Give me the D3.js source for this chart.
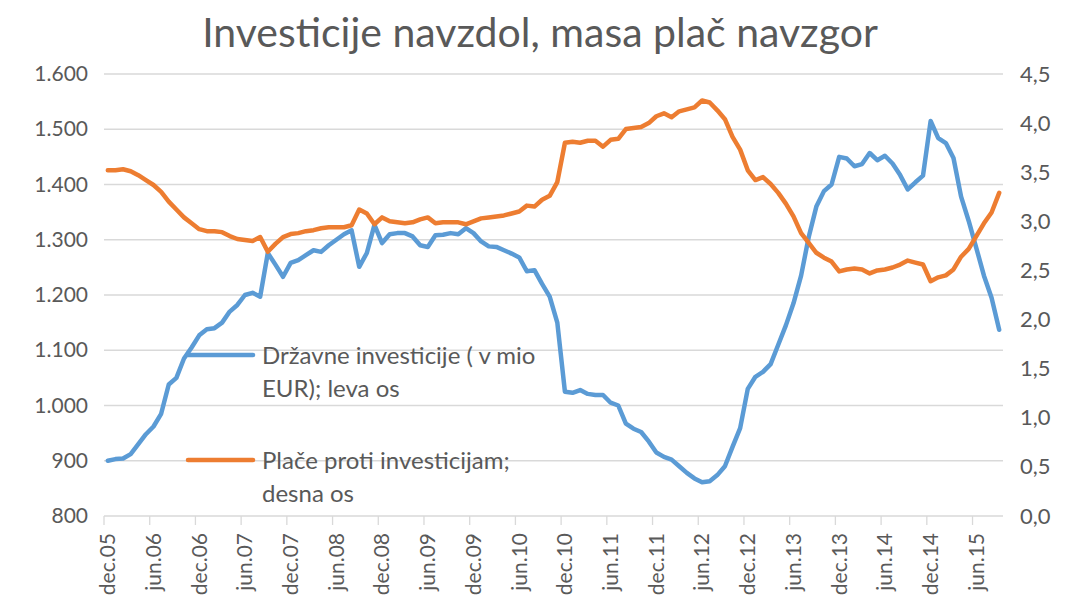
<!DOCTYPE html>
<html>
<head>
<meta charset="utf-8">
<script src="https://cdn.jsdelivr.net/npm/d3@7"></script>
<style>
  body { margin: 0; background: #fff; }
  svg { display: block; font-family: Lato, 'Open Sans', sans-serif; }
</style>
</head>
<body>
<div id="chart"></div>
<script>
const width = 1069, height = 610;

// monthly values dec.05 .. sep.15
const investicije = [
  900, 903, 904, 912, 930, 948, 962, 985, 1038, 1050,
  1085, 1105, 1127, 1138, 1140, 1150, 1170, 1182, 1200, 1204,
  1197, 1276, 1255, 1233, 1258, 1263, 1272, 1281, 1278, 1290,
  1300, 1310, 1317, 1251, 1276, 1327, 1294, 1310, 1312, 1312,
  1306, 1290, 1287, 1308, 1309, 1312, 1310, 1321, 1312, 1297,
  1288, 1287, 1281, 1275, 1268, 1243, 1245, 1220, 1197, 1150,
  1025, 1023, 1028, 1021, 1019, 1019, 1005, 1000, 967, 958,
  952, 935, 915, 907, 902, 890, 878, 868, 861, 863,
  874, 890, 925, 959, 1030, 1052, 1061, 1075, 1110, 1145,
  1185, 1235, 1305, 1360, 1388, 1400, 1450, 1447, 1433, 1437,
  1457, 1444, 1452, 1438, 1417, 1391, 1404, 1416, 1515, 1484,
  1475, 1448, 1378, 1334, 1285, 1235, 1195, 1137
];
const placeProti = [
  3.52, 3.52, 3.53, 3.51, 3.47, 3.42, 3.37, 3.30, 3.20, 3.12,
  3.04, 2.98, 2.92, 2.90, 2.90, 2.89, 2.85, 2.82, 2.81, 2.80,
  2.84, 2.69, 2.77, 2.84, 2.87, 2.88, 2.90, 2.91, 2.93, 2.94,
  2.94, 2.94, 2.96, 3.12, 3.08, 2.97, 3.04, 3.00, 2.99, 2.98,
  2.99, 3.02, 3.04, 2.98, 2.99, 2.99, 2.99, 2.97, 3.00, 3.03,
  3.04, 3.05, 3.06, 3.08, 3.10, 3.16, 3.15, 3.22, 3.26, 3.40,
  3.80, 3.81, 3.80, 3.82, 3.82, 3.76, 3.83, 3.84, 3.94, 3.95,
  3.96, 4.00, 4.07, 4.10, 4.06, 4.12, 4.14, 4.16, 4.23, 4.21,
  4.13, 4.04, 3.86, 3.73, 3.52, 3.42, 3.45, 3.38, 3.29, 3.18,
  3.05, 2.88, 2.78, 2.68, 2.63, 2.59, 2.49, 2.51, 2.52, 2.51,
  2.47, 2.50, 2.51, 2.53, 2.56, 2.60, 2.58, 2.56, 2.39, 2.43,
  2.45, 2.51, 2.64, 2.72, 2.85, 2.98, 3.09, 3.29
];
const tickLabels = [
  'dec.05', 'jun.06', 'dec.06', 'jun.07', 'dec.07', 'jun.08', 'dec.08',
  'jun.09', 'dec.09', 'jun.10', 'dec.10', 'jun.11', 'dec.11', 'jun.12',
  'dec.12', 'jun.13', 'dec.13', 'jun.14', 'dec.14', 'jun.15'
];
const leftTicks = [800, 900, 1000, 1100, 1200, 1300, 1400, 1500, 1600];
const rightTicks = [0, 0.5, 1, 1.5, 2, 2.5, 3, 3.5, 4, 4.5];
const legendItems = [
  { lines: ['Državne investicije ( v mio', 'EUR); leva os'], color: '#5b9bd5' },
  { lines: ['Plače proti investicijam;', 'desna os'], color: '#ed7d31' }
];

const margin = { top: 74, right: 66, bottom: 94, left: 104 };
const plotW = width - margin.left - margin.right;
const plotH = height - margin.top - margin.bottom;
const textColor = '#595959';

const svg = d3.select('#chart').append('svg')
  .attr('width', width)
  .attr('height', height);

const x = d3.scaleBand()
  .domain(d3.range(investicije.length))
  .range([margin.left, margin.left + plotW])
  .padding(0);
const yLeft = d3.scaleLinear()
  .domain([800, 1600])
  .range([margin.top + plotH, margin.top]);
const yRight = d3.scaleLinear()
  .domain([0, 4.5])
  .range([margin.top + plotH, margin.top]);

// title
svg.append('text')
  .attr('x', 540)
  .attr('y', 47)
  .attr('text-anchor', 'middle')
  .attr('font-size', '41px')
  .attr('fill', textColor)
  .text('Investicije navzdol, masa plač navzgor');

// gridlines
svg.append('g')
  .selectAll('line')
  .data(leftTicks.slice(1))
  .join('line')
    .attr('x1', margin.left)
    .attr('x2', margin.left + plotW)
    .attr('y1', d => yLeft(d))
    .attr('y2', d => yLeft(d))
    .attr('stroke', '#d9d9d9')
    .attr('stroke-width', 1.3);

// left axis
const leftAxis = d3.axisLeft(yLeft)
  .tickValues(leftTicks)
  .tickSize(0)
  .tickPadding(16)
  .tickFormat(d => d3.format(',')(d).replace(',', '.'));
svg.append('g')
  .attr('transform', `translate(${margin.left}, 0)`)
  .call(leftAxis)
  .call(g => g.select('.domain').remove())
  .selectAll('text')
    .attr('font-size', '21px')
    .attr('font-family', 'Lato, sans-serif')
    .attr('fill', textColor);

// right axis
const rightAxis = d3.axisRight(yRight)
  .tickValues(rightTicks)
  .tickSize(0)
  .tickPadding(17)
  .tickFormat(d => d3.format('.1f')(d).replace('.', ','));
svg.append('g')
  .attr('transform', `translate(${margin.left + plotW}, 0)`)
  .call(rightAxis)
  .call(g => g.select('.domain').remove())
  .selectAll('text')
    .attr('font-size', '22px')
    .attr('font-family', 'Lato, sans-serif')
    .attr('fill', textColor);

// x axis
const bottomY = margin.top + plotH;
const tickIdx = tickLabels.map((d, i) => i * 6);
svg.append('line')
  .attr('x1', margin.left)
  .attr('x2', margin.left + plotW)
  .attr('y1', bottomY)
  .attr('y2', bottomY)
  .attr('stroke', '#d9d9d9')
  .attr('stroke-width', 1.3);
svg.append('g')
  .selectAll('line')
  .data(tickIdx)
  .join('line')
    .attr('x1', d => x(d))
    .attr('x2', d => x(d))
    .attr('y1', bottomY)
    .attr('y2', bottomY + 9)
    .attr('stroke', '#d9d9d9')
    .attr('stroke-width', 1.3);
svg.append('g')
  .selectAll('text')
  .data(tickLabels)
  .join('text')
    .attr('transform', (d, i) => `translate(${x(tickIdx[i]) + x.bandwidth() / 2}, ${bottomY + 17}) rotate(-90)`)
    .attr('text-anchor', 'end')
    .attr('dy', '0.35em')
    .attr('font-size', '21px')
    .attr('fill', textColor)
    .text(d => d);

// legend
const legend = svg.append('g');
legendItems.forEach((item, k) => {
  const ly = 355 + k * 105;
  legend.append('line')
    .attr('x1', 188)
    .attr('x2', 253)
    .attr('y1', ly)
    .attr('y2', ly)
    .attr('stroke', item.color)
    .attr('stroke-width', 4.5)
    .attr('stroke-linecap', 'round');
  legend.append('text')
    .attr('x', 262)
    .attr('y', ly + 9)
    .attr('font-size', '24px')
    .attr('fill', textColor)
    .selectAll('tspan')
    .data(item.lines)
    .join('tspan')
      .attr('x', 262)
      .attr('dy', (d, i) => i === 0 ? 0 : 33)
      .text(d => d);
});

// lines
const cx = i => x(i) + x.bandwidth() / 2;
svg.append('path')
  .datum(investicije)
  .attr('fill', 'none')
  .attr('stroke', '#5b9bd5')
  .attr('stroke-width', 4.5)
  .attr('stroke-linejoin', 'round')
  .attr('stroke-linecap', 'round')
  .attr('d', d3.line().x((d, i) => cx(i)).y(d => yLeft(d)));
svg.append('path')
  .datum(placeProti)
  .attr('fill', 'none')
  .attr('stroke', '#ed7d31')
  .attr('stroke-width', 4.5)
  .attr('stroke-linejoin', 'round')
  .attr('stroke-linecap', 'round')
  .attr('d', d3.line().x((d, i) => cx(i)).y(d => yRight(d)));
</script>
</body>
</html>
